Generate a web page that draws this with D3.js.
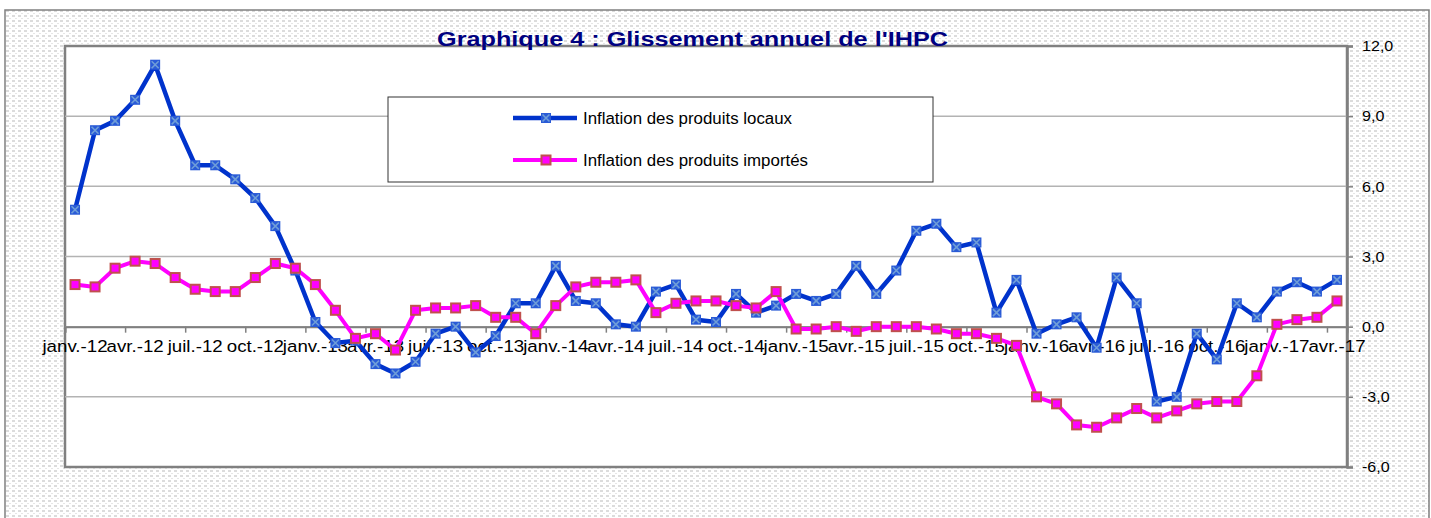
<!DOCTYPE html>
<html>
<head>
<meta charset="utf-8">
<script src="https://cdn.jsdelivr.net/npm/d3@7"></script>
<style>
  body { margin: 0; background: #fff; }
  svg { display: block; font-family: "Liberation Sans", Arial, sans-serif; }
</style>
</head>
<body>
<svg id="chart" width="1431" height="518"></svg>
<script>
const categories = [
  'janv.-12','févr.-12','mars-12','avr.-12','mai-12','juin-12','juil.-12','août-12','sept.-12','oct.-12','nov.-12','déc.-12',
  'janv.-13','févr.-13','mars-13','avr.-13','mai-13','juin-13','juil.-13','août-13','sept.-13','oct.-13','nov.-13','déc.-13',
  'janv.-14','févr.-14','mars-14','avr.-14','mai-14','juin-14','juil.-14','août-14','sept.-14','oct.-14','nov.-14','déc.-14',
  'janv.-15','févr.-15','mars-15','avr.-15','mai-15','juin-15','juil.-15','août-15','sept.-15','oct.-15','nov.-15','déc.-15',
  'janv.-16','févr.-16','mars-16','avr.-16','mai-16','juin-16','juil.-16','août-16','sept.-16','oct.-16','nov.-16','déc.-16',
  'janv.-17','févr.-17','mars-17','avr.-17'
];
const tickLabels = ['janv.-12','avr.-12','juil.-12','oct.-12','janv.-13','avr.-13','juil.-13','oct.-13',
  'janv.-14','avr.-14','juil.-14','oct.-14','janv.-15','avr.-15','juil.-15','oct.-15',
  'janv.-16','avr.-16','juil.-16','oct.-16','janv.-17','avr.-17'];

const localInflation = [
  5.0, 8.4, 8.8, 9.7, 11.2, 8.8, 6.9, 6.9, 6.3, 5.5, 4.3, 2.4,
  0.2, -0.7, -0.6, -1.6, -2.0, -1.5, -0.3, 0.0, -1.1, -0.4, 1.0, 1.0,
  2.6, 1.1, 1.0, 0.1, 0.0, 1.5, 1.8, 0.3, 0.2, 1.4, 0.6, 0.9,
  1.4, 1.1, 1.4, 2.6, 1.4, 2.4, 4.1, 4.4, 3.4, 3.6, 0.6, 2.0,
  -0.3, 0.1, 0.4, -0.9, 2.1, 1.0, -3.2, -3.0, -0.3, -1.4, 1.0, 0.4,
  1.5, 1.9, 1.5, 2.0
];
const importedInflation = [
  1.8, 1.7, 2.5, 2.8, 2.7, 2.1, 1.6, 1.5, 1.5, 2.1, 2.7, 2.5,
  1.8, 0.7, -0.5, -0.3, -1.0, 0.7, 0.8, 0.8, 0.9, 0.4, 0.4, -0.3,
  0.9, 1.7, 1.9, 1.9, 2.0, 0.6, 1.0, 1.1, 1.1, 0.9, 0.8, 1.5,
  -0.1, -0.1, 0.0, -0.2, 0.0, 0.0, 0.0, -0.1, -0.3, -0.3, -0.5, -0.8,
  -3.0, -3.3, -4.2, -4.3, -3.9, -3.5, -3.9, -3.6, -3.3, -3.2, -3.2, -2.1,
  0.1, 0.3, 0.4, 1.1
];
const yTicks = [-6, -3, 0, 3, 6, 9, 12];
const seriesNames = ['Inflation des produits locaux', 'Inflation des produits importés'];
const title = "Graphique 4 : Glissement annuel de l'IHPC";

const svg = d3.select('#chart');
const plot = { left: 65, top: 46, right: 1347, bottom: 467 };

// outer frame with light dotted pattern
const defs = svg.append('defs');
const pat = defs.append('pattern').attr('id', 'dots')
  .attr('width', 6).attr('height', 5).attr('patternUnits', 'userSpaceOnUse');
pat.append('rect').attr('width', 6).attr('height', 5).attr('fill', '#fff');
pat.append('rect').attr('width', 3).attr('height', 2).attr('fill', '#dcdcdc');
pat.append('rect').attr('x', 3).attr('y', 3).attr('width', 2).attr('height', 1).attr('fill', '#e6e6e6');

svg.append('rect').attr('x', 5).attr('y', 10).attr('width', 1424).attr('height', 530)
  .attr('fill', 'url(#dots)').attr('stroke', '#808080').attr('stroke-width', 1.5);

const x = d3.scaleBand().domain(categories).range([plot.left, plot.right]).padding(0);
const xIdx = d3.scaleLinear().domain([0, categories.length]).range([plot.left, plot.right]);
const y = d3.scaleLinear().domain([-6, 12]).range([plot.bottom, plot.top]);
const cx = d => x(d) + x.bandwidth() / 2;

const fr = d3.formatLocale({ decimal: ',', thousands: ' ', grouping: [3], currency: ['', ''], minus: '-' });
const fmt = fr.format('.1f');

// plot area
svg.append('rect').attr('x', plot.left).attr('y', plot.top)
  .attr('width', plot.right - plot.left).attr('height', plot.bottom - plot.top)
  .attr('fill', '#fff').attr('stroke', '#808080').attr('stroke-width', 2.5);

// gridlines
svg.append('g').selectAll('line').data(yTicks.filter(t => t > -6 && t < 12)).enter().append('line')
  .attr('x1', plot.left).attr('x2', plot.right)
  .attr('y1', d => y(d)).attr('y2', d => y(d))
  .attr('stroke', '#b3b3b3').attr('stroke-width', 1.5);

// right y axis
const yAxis = svg.append('g').attr('transform', `translate(${plot.right},0)`)
  .call(d3.axisRight(y).tickValues(yTicks).tickSize(6).tickFormat(fmt));
yAxis.select('.domain').attr('stroke', '#808080').attr('stroke-width', 2.5);
yAxis.selectAll('.tick line').attr('stroke', '#808080').attr('stroke-width', 1.5);
yAxis.selectAll('.tick text').attr('x', 0).attr('dy', '0.34em')
  .attr('transform', 'translate(15,0) scale(1.15,1)')
  .attr('font-size', 14).attr('fill', '#000').attr('font-family', '"Liberation Sans", Arial, sans-serif');

// x axis at zero: tick marks between categories every 3 months
const y0 = y(0);
const xTicks = svg.append('g').attr('transform', `translate(0,${y0})`)
  .call(d3.axisBottom(xIdx).tickValues(d3.range(0, categories.length + 1, 3)).tickSize(6).tickFormat(''));
xTicks.select('.domain').attr('stroke', '#808080').attr('stroke-width', 2);
xTicks.selectAll('.tick line').attr('stroke', '#808080').attr('stroke-width', 1.5);

const xLabels = svg.append('g').attr('transform', `translate(0,${y0})`)
  .call(d3.axisBottom(x).tickValues(tickLabels).tickSize(0));
xLabels.select('.domain').remove();
xLabels.selectAll('.tick text').attr('y', 0).attr('dy', 0)
  .attr('transform', 'translate(0,25.5) scale(1.1,1)')
  .attr('font-size', 17).attr('fill', '#000').attr('font-family', '"Liberation Sans", Arial, sans-serif');

// series
const series = [
  { name: seriesNames[0], values: localInflation, color: '#0033cc', width: 4.5, marker: 'cross' },
  { name: seriesNames[1], values: importedInflation, color: '#ff00ff', width: 4, marker: 'square' }
];

function drawMarker(g, type, px, py) {
  if (type === 'cross') {
    g.append('rect').attr('x', px - 5).attr('y', py - 5).attr('width', 10).attr('height', 10)
      .attr('fill', '#2a5bd6');
    g.append('path').attr('d', `M${px - 3.5},${py - 3.5}L${px + 3.5},${py + 3.5}M${px + 3.5},${py - 3.5}L${px - 3.5},${py + 3.5}`)
      .attr('stroke', '#6f9ed8').attr('stroke-width', 1.6);
  } else {
    g.append('rect').attr('x', px - 4.5).attr('y', py - 4.5).attr('width', 9).attr('height', 9)
      .attr('fill', '#ff00ff').attr('stroke', '#c0504d').attr('stroke-width', 2);
  }
}

const line = d3.line().x(d => cx(d.c)).y(d => y(d.v));
series.forEach(s => {
  const pts = categories.map((c, i) => ({ c, v: s.values[i] }));
  const g = svg.append('g');
  g.append('path').datum(pts).attr('d', line).attr('fill', 'none')
    .attr('stroke', s.color).attr('stroke-width', s.width)
    .attr('stroke-linejoin', 'round').attr('stroke-linecap', 'round');
  pts.forEach(p => drawMarker(g, s.marker, cx(p.c), y(p.v)));
});

// legend
const legend = svg.append('g');
legend.append('rect').attr('x', 388).attr('y', 97).attr('width', 545).attr('height', 85)
  .attr('fill', '#fff').attr('stroke', '#333').attr('stroke-width', 1);
series.forEach((s, i) => {
  const ly = 118 + i * 42;
  legend.append('line').attr('x1', 513).attr('x2', 577).attr('y1', ly).attr('y2', ly)
    .attr('stroke', s.color).attr('stroke-width', s.width);
  drawMarker(legend, s.marker, 546, ly);
  legend.append('text').attr('x', 583).attr('y', ly + 5.5)
    .attr('font-size', 16).attr('fill', '#000')
    .attr('textLength', i === 0 ? 209 : 225).attr('lengthAdjust', 'spacingAndGlyphs')
    .text(s.name);
});

// title
svg.append('text').attr('x', 437).attr('y', 46)
  .attr('font-size', 21).attr('font-weight', 'bold').attr('fill', '#000080')
  .attr('textLength', 511).attr('lengthAdjust', 'spacingAndGlyphs')
  .text(title);
</script>
</body>
</html>
